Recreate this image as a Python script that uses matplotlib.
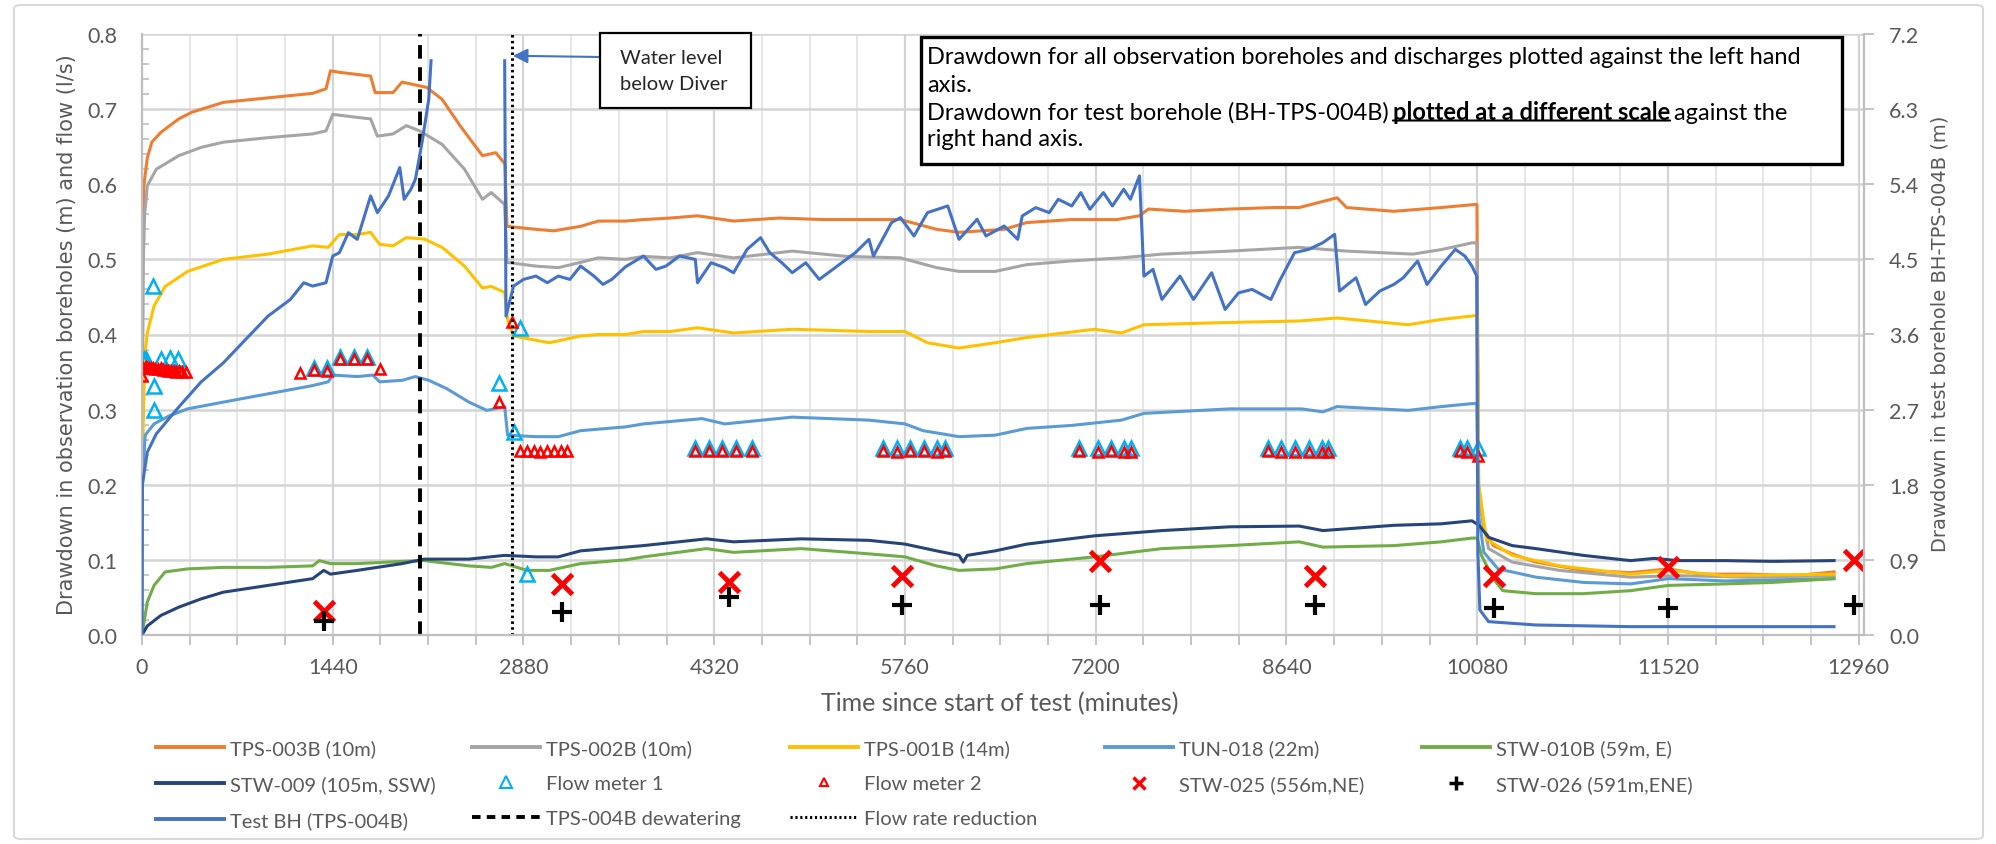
import matplotlib
matplotlib.use('Agg')
import matplotlib.pyplot as plt
from matplotlib.lines import Line2D
from matplotlib.patches import Rectangle, FancyBboxPatch
from matplotlib.text import Annotation
import numpy as np

W, H = 1996, 845
SANS = ['Lato', 'DejaVu Sans']
GREY_TXT = '#595959'
AXIS_GREY = '#BFBFBF'

# ---- data (minutes since start, drawdown in m / flow in l/s) ----
t_tps003b = [0, 5, 15, 40, 74, 142, 277, 378, 614, 951, 1288, 1389, 1423, 1490, 1726, 1760, 1895, 1963,
             2148, 2266, 2401, 2570, 2671, 2740, 2755, 2974, 3109, 3311, 3445, 3649, 3786, 3986, 4194, 4466,
             4807, 5147, 5488, 5726, 5998, 6168, 6509, 6679, 7019, 7360, 7530, 7598, 7870, 8211, 8551, 8736,
             9022, 9094, 9451, 9808, 10058, 10078, 10090, 10130, 10201, 10344, 10523, 10880, 11238, 11523,
             11773, 12131, 12488, 12774]
d_tps003b = [0.2, 0.52, 0.6, 0.635, 0.656, 0.669, 0.687, 0.696, 0.709, 0.715, 0.721, 0.727, 0.751, 0.749,
             0.744, 0.722, 0.722, 0.736, 0.729, 0.713, 0.678, 0.638, 0.642, 0.627, 0.544, 0.540, 0.538, 0.544,
             0.551, 0.551, 0.553, 0.555, 0.558, 0.551, 0.555, 0.553, 0.553, 0.553, 0.540, 0.536, 0.540, 0.549,
             0.553, 0.553, 0.558, 0.567, 0.564, 0.567, 0.569, 0.569, 0.582, 0.569, 0.564, 0.569, 0.573, 0.573,
             0.2, 0.141, 0.119, 0.108, 0.097, 0.086, 0.083, 0.088, 0.081, 0.081, 0.079, 0.084]

t_tps002b = [0, 10, 20, 40, 108, 277, 445, 614, 951, 1288, 1389, 1440, 1625, 1726, 1777, 1895, 1996, 2097,
             2266, 2435, 2570, 2637, 2738, 2755, 2974, 3143, 3311, 3445, 3649, 3786, 3986, 4194, 4466, 4909,
             5317, 5726, 5998, 6168, 6441, 6679, 7019, 7394, 7700, 8211, 8736, 9094, 9594, 9808, 10040, 10078,
             10090, 10166, 10344, 10702, 11238, 11595, 12131, 12774]
d_tps002b = [0.2, 0.5, 0.56, 0.598, 0.62, 0.638, 0.649, 0.656, 0.662, 0.667, 0.671, 0.693, 0.689, 0.687,
             0.664, 0.667, 0.678, 0.671, 0.653, 0.62, 0.58, 0.589, 0.573, 0.496, 0.491, 0.489, 0.496, 0.502,
             0.5, 0.504, 0.502, 0.509, 0.502, 0.511, 0.504, 0.502, 0.489, 0.484, 0.484, 0.493, 0.498, 0.502,
             0.507, 0.511, 0.516, 0.511, 0.507, 0.513, 0.522, 0.522, 0.18, 0.115, 0.097, 0.086, 0.077, 0.079,
             0.077, 0.079]

t_tps001b = [0, 20, 40, 91, 175, 344, 614, 951, 1288, 1406, 1490, 1625, 1726, 1794, 1895, 1996, 2131, 2266,
             2435, 2570, 2637, 2738, 2760, 2805, 3075, 3311, 3445, 3649, 3786, 3986, 4194, 4466, 4909, 5488,
             5760, 5930, 6168, 6441, 6679, 7190, 7394, 7564, 8211, 8736, 9022, 9558, 9808, 10058, 10080,
             10092, 10148, 10344, 10702, 11238, 11523, 11952, 12774]
d_tps001b = [0.2, 0.37, 0.402, 0.438, 0.464, 0.484, 0.5, 0.507, 0.518, 0.516, 0.533, 0.533, 0.536, 0.52,
             0.518, 0.529, 0.527, 0.516, 0.491, 0.462, 0.464, 0.456, 0.42, 0.398, 0.389, 0.398, 0.40, 0.40,
             0.404, 0.404, 0.409, 0.402, 0.407, 0.404, 0.404, 0.389, 0.382, 0.389, 0.396, 0.407, 0.402, 0.413,
             0.416, 0.418, 0.422, 0.413, 0.42, 0.425, 0.425, 0.2, 0.128, 0.106, 0.092, 0.081, 0.086, 0.079,
             0.081]

t_tun018 = [0, 3, 24, 91, 209, 344, 614, 951, 1288, 1406, 1440, 1625, 1743, 1794, 1963, 2064, 2165, 2300,
            2468, 2603, 2738, 2760, 2974, 3143, 3311, 3649, 3786, 4228, 4398, 4909, 5488, 5760, 5896, 6168,
            6441, 6679, 7019, 7394, 7564, 8211, 8755, 8915, 9022, 9558, 9808, 10040, 10078, 10090, 10130,
            10237, 10523, 10880, 11238, 11523, 11952, 12774]
d_tun018 = [0.0, 0.2, 0.266, 0.281, 0.292, 0.301, 0.31, 0.321, 0.332, 0.337, 0.346, 0.344, 0.346, 0.337,
            0.339, 0.344, 0.339, 0.328, 0.31, 0.299, 0.304, 0.266, 0.264, 0.264, 0.272, 0.277, 0.281, 0.288,
            0.281, 0.29, 0.286, 0.281, 0.272, 0.264, 0.266, 0.275, 0.279, 0.286, 0.295, 0.301, 0.301, 0.297,
            0.304, 0.299, 0.304, 0.308, 0.308, 0.16, 0.11, 0.088, 0.077, 0.07, 0.068, 0.075, 0.072, 0.075]

t_stw010b = [0, 40, 91, 175, 344, 614, 951, 1288, 1339, 1423, 1625, 1963, 2131, 2468, 2637, 2738, 2907,
             3075, 3311, 3649, 3786, 4262, 4466, 4977, 5488, 5760, 5998, 6168, 6441, 6679, 7190, 7700, 8211,
             8736, 8915, 9451, 9808, 10040, 10080, 10112, 10201, 10273, 10523, 10880, 11238, 11523, 11952,
             12310, 12774]
d_stw010b = [0.0, 0.044, 0.066, 0.084, 0.088, 0.09, 0.09, 0.092, 0.099, 0.095, 0.095, 0.098, 0.099, 0.092,
             0.09, 0.095, 0.086, 0.086, 0.095, 0.10, 0.104, 0.115, 0.11, 0.115, 0.108, 0.104, 0.092, 0.086,
             0.088, 0.095, 0.104, 0.115, 0.119, 0.124, 0.117, 0.119, 0.124, 0.129, 0.129, 0.106, 0.075, 0.059,
             0.055, 0.055, 0.059, 0.066, 0.068, 0.07, 0.075]

t_stw009 = [0, 40, 142, 277, 445, 614, 951, 1288, 1372, 1423, 1625, 1963, 2131, 2468, 2738, 2974, 3143,
            3311, 3649, 3786, 4262, 4466, 4977, 5488, 5760, 5998, 6168, 6200, 6230, 6441, 6679, 7190, 7700,
            8211, 8736, 8915, 9451, 9808, 10040, 10094, 10166, 10344, 10523, 10880, 11238, 11416, 11595,
            11952, 12310, 12774]
d_stw009 = [0.0, 0.012, 0.026, 0.037, 0.048, 0.057, 0.066, 0.075, 0.086, 0.081, 0.086, 0.095, 0.101, 0.101,
            0.106, 0.104, 0.104, 0.112, 0.117, 0.119, 0.128, 0.124, 0.128, 0.126, 0.121, 0.112, 0.106, 0.097,
            0.106, 0.112, 0.121, 0.132, 0.139, 0.144, 0.145, 0.139, 0.146, 0.148, 0.152, 0.146, 0.13, 0.119,
            0.115, 0.106, 0.099, 0.102, 0.099, 0.099, 0.098, 0.099]

# test borehole, right hand axis (m); nan = logger out of water
t_test_bh = [0, 3, 40, 108, 277, 445, 614, 782, 951, 1120, 1221, 1288, 1389, 1440, 1490, 1558, 1625, 1726,
             1777, 1861, 1946, 1979, 2030, 2064, 2114, 2165, 2182, 2400, 2738, 2748, 2805, 2880, 2974, 3060,
             3143, 3230, 3311, 3412, 3480, 3547, 3649, 3786, 3880, 3956, 4058, 4177, 4194, 4296, 4400, 4466,
             4568, 4670, 4739, 4830, 4909, 5011, 5113, 5249, 5385, 5488, 5522, 5658, 5726, 5828, 5930, 6083,
             6168, 6304, 6372, 6509, 6611, 6645, 6747, 6849, 6917, 7019, 7087, 7156, 7258, 7326, 7411, 7462,
             7530, 7564, 7632, 7700, 7836, 7938, 8075, 8177, 8279, 8381, 8522, 8594, 8701, 8808, 8915, 9004,
             9040, 9165, 9237, 9344, 9451, 9522, 9630, 9701, 9808, 9915, 9987, 10040, 10076, 10085, 10100,
             10166, 10523, 11238, 12774]
d_test_bh = [0.0, 1.8, 2.19, 2.41, 2.73, 3.03, 3.26, 3.54, 3.82, 4.02, 4.22, 4.18, 4.22, 4.54, 4.58, 4.82,
             4.74, 5.26, 5.06, 5.26, 5.6, 5.22, 5.34, 5.46, 5.9, 6.42, 6.88, np.nan, 6.88, 3.82, 4.18, 4.26,
             4.3, 4.22, 4.3, 4.26, 4.42, 4.3, 4.2, 4.26, 4.41, 4.54, 4.38, 4.42, 4.54, 4.5, 4.22, 4.46, 4.4,
             4.34, 4.62, 4.76, 4.58, 4.46, 4.34, 4.46, 4.26, 4.42, 4.58, 4.74, 4.54, 4.94, 5.0, 4.78, 5.06,
             5.14, 4.74, 4.98, 4.78, 4.9, 4.74, 5.02, 5.12, 5.06, 5.22, 5.14, 5.3, 5.1, 5.3, 5.14, 5.34, 5.22,
             5.5, 4.3, 4.38, 4.02, 4.3, 4.02, 4.34, 3.9, 4.1, 4.14, 4.02, 4.26, 4.58, 4.62, 4.7, 4.8, 4.12,
             4.28, 3.96, 4.12, 4.2, 4.28, 4.48, 4.2, 4.42, 4.62, 4.54, 4.42, 4.3, 1.0, 0.3, 0.16, 0.12, 0.1,
             0.1]

t_flow1 = [5, 15, 30, 84, 91, 91, 142, 209, 270, 1295, 1396, 1497, 1598, 1700, 2694, 2806, 2856, 2907,
           4177, 4279, 4381, 4483, 4602, 5597, 5699, 5801, 5903, 6005, 6059, 7070, 7217, 7319, 7411, 7469,
           8504, 8601, 8701, 8808, 8908, 8951, 9951, 10005, 10087]
q_flow1 = [0.365, 0.368, 0.367, 0.464, 0.331, 0.299, 0.368, 0.369, 0.367, 0.356, 0.356, 0.37, 0.37, 0.37,
           0.336, 0.27, 0.409, 0.081, 0.249, 0.249, 0.249, 0.249, 0.249, 0.249, 0.249, 0.249, 0.249, 0.249,
           0.249, 0.249, 0.249, 0.249, 0.249, 0.249, 0.249, 0.249, 0.249, 0.249, 0.249, 0.249, 0.249, 0.249,
           0.249]

t_flow2 = [0, 10, 20, 30, 40, 55, 70, 85, 100, 120, 140, 160, 180, 200, 220, 240, 260, 280, 300, 330, 1194,
           1295, 1396, 1497, 1598, 1700, 1794, 2694, 2790, 2856, 2907, 2957, 3008, 3059, 3109, 3160, 3210,
           4177, 4279, 4381, 4483, 4602, 5597, 5699, 5801, 5903, 6005, 6059, 7070, 7217, 7319, 7411, 7469,
           8504, 8601, 8701, 8808, 8908, 8951, 9951, 10005, 10087]
q_flow2 = [0.345, 0.355, 0.356, 0.357, 0.356, 0.355, 0.355, 0.356, 0.354, 0.354, 0.355, 0.353, 0.353,
           0.352, 0.352, 0.351, 0.350, 0.351, 0.350, 0.350, 0.349, 0.353, 0.351, 0.367, 0.367, 0.367, 0.354,
           0.31, 0.416, 0.245, 0.245, 0.245, 0.244, 0.245, 0.245, 0.245, 0.245, 0.245, 0.245, 0.245, 0.245,
           0.245, 0.245, 0.244, 0.245, 0.245, 0.244, 0.245, 0.245, 0.244, 0.245, 0.244, 0.244, 0.245, 0.244,
           0.243, 0.244, 0.243, 0.244, 0.245, 0.243, 0.238]

t_manual = [1372, 3170, 4432, 5736, 7234, 8854, 10209, 11523, 12924]
d_stw025 = [0.032, 0.068, 0.07, 0.079, 0.099, 0.079, 0.079, 0.09, 0.1]
d_stw026 = [0.019, 0.030, 0.05, 0.04, 0.04, 0.04, 0.036, 0.036, 0.04]

t_dewatering = 2100
t_flow_reduction = 2790

x_ticks = list(range(0, 12961, 1440))
y_left_ticks = [0.0, 0.1, 0.2, 0.3, 0.4, 0.5, 0.6, 0.7, 0.8]
y_right_ticks = [0.0, 0.9, 1.8, 2.7, 3.6, 4.5, 5.4, 6.3, 7.2]


def fx(x):
    return x / W


def fy(y):
    return 1 - y / H


fig = plt.figure(figsize=(W / 100, H / 100), dpi=100)
ax = fig.add_axes([fx(142), fy(636), fx(1864) - fx(142), fy(35) - fy(636)])
ax2 = ax.twinx()

lw = 2.2
ax.plot(t_tps003b, d_tps003b, color='#ED7D31', lw=lw)
ax.plot(t_tps002b, d_tps002b, color='#A5A5A5', lw=lw)
ax.plot(t_tps001b, d_tps001b, color='#FFC000', lw=lw)
ax.plot(t_tun018, d_tun018, color='#5B9BD5', lw=lw)
ax.plot(t_stw010b, d_stw010b, color='#70AD47', lw=lw)
ax.plot(t_stw009, d_stw009, color='#264478', lw=lw)
ax.plot(t_flow1, q_flow1, ls='none', marker='^', ms=10, mfc='none', mec='#00B0F0', mew=1.8)
ax.plot(t_flow2, q_flow2, ls='none', marker='^', ms=7, mfc='none', mec='#FF0000', mew=1.8)
ax.plot(t_manual, d_stw025, ls='none', marker='x', ms=14, mec='#FF0000', mew=3.5)
ax.plot(t_manual, d_stw026, ls='none', marker='+', ms=15, mec='black', mew=3)
ax.axvline(t_dewatering, color='black', lw=2.8, dashes=(3.5, 2.2))
ax.axvline(t_flow_reduction, color='black', lw=2.2, dashes=(0.8, 1.1))

ax2.plot(t_test_bh, d_test_bh, color='#4472C4', lw=lw)

# axes styling
ax.set_xlim(0, 13000)
ax.set_ylim(0, 0.8)
ax2.set_ylim(0, 7.2)
ax.set_xticks(x_ticks)
ax.set_xticks(range(0, 13000, 360), minor=True)
ax.set_yticks(y_left_ticks)
ax.set_yticklabels(['%.1f' % v for v in y_left_ticks])
ax.set_yticks(np.arange(0, 0.8, 0.02), minor=True)
ax2.set_yticks(y_right_ticks)
ax2.set_yticklabels(['%.1f' % v for v in y_right_ticks])

ax.set_axisbelow(True)
ax.grid(axis='x', which='minor', color='#E4E4E4', lw=1.3)
ax.grid(axis='x', which='major', color='#D4D4D4', lw=1.6)
ax.grid(axis='y', which='major', color='#D4D4D4', lw=1.8)

for a in (ax, ax2):
    a.spines['top'].set_visible(False)
ax.spines['right'].set_visible(False)
ax2.spines['left'].set_visible(False)
ax2.spines['bottom'].set_visible(False)
for s in ('left', 'bottom'):
    ax.spines[s].set_color(AXIS_GREY)
    ax.spines[s].set_linewidth(1.6)
ax2.spines['right'].set_color(AXIS_GREY)
ax2.spines['right'].set_linewidth(1.6)

ax.tick_params(axis='x', which='both', direction='out', length=7, width=1.3, color=AXIS_GREY,
               pad=9, labelsize=15.5, labelcolor=GREY_TXT)
ax.tick_params(axis='y', which='major', length=0, pad=18, labelsize=15.5, labelcolor=GREY_TXT)
ax.tick_params(axis='y', which='minor', direction='in', length=5, width=1.2, color=AXIS_GREY)
ax2.tick_params(axis='y', which='major', direction='out', length=7, width=1.3, color=AXIS_GREY,
                pad=11, labelsize=15.5, labelcolor=GREY_TXT)
for lab in ax.get_xticklabels() + ax.get_yticklabels() + ax2.get_yticklabels():
    lab.set_family(SANS)

# axis titles
fig.text(fx(67), fy(335), 'Drawdown in observation boreholes (m) and flow (l/s)', rotation=90,
         ha='center', va='center', fontsize=15, color=GREY_TXT, family='DejaVu Sans')
fig.text(fx(1940), fy(334), 'Drawdown in test borehole BH-TPS-004B (m)', rotation=90,
         ha='center', va='center', fontsize=14, color=GREY_TXT, family='DejaVu Sans')
fig.text(fx(1000), fy(704), 'Time since start of test (minutes)', ha='center', va='center',
         fontsize=18, color=GREY_TXT, family=SANS)

# "water level below diver" call-out
fig.add_artist(Rectangle((fx(600), fy(109)), fx(751) - fx(600), fy(34) - fy(109),
                         transform=fig.transFigure, fc='white', ec='black', lw=1.6))
fig.text(fx(620), fy(58), 'Water level', va='center', fontsize=14.5, family=SANS, color='#262626')
fig.text(fx(620), fy(84), 'below Diver', va='center', fontsize=14.5, family=SANS, color='#262626')
ax.annotate('', xy=(2800, 0.771), xycoords='data', xytext=(fx(600), fy(58)),
            textcoords='figure fraction',
            arrowprops=dict(arrowstyle='-|>', color='#4472C4', lw=1.5, mutation_scale=22,
                            shrinkA=0, shrinkB=0))

# note box
fig.add_artist(Rectangle((fx(921), fy(165)), fx(1842) - fx(921), fy(38) - fy(165),
                         transform=fig.transFigure, fc='white', ec='black', lw=2.4))
note_kw = dict(fontsize=17, family=SANS, color='black', va='center')
fig.text(fx(927), fy(58), 'Drawdown for all observation boreholes and discharges plotted against the left hand',
         **note_kw)
fig.text(fx(927), fy(85), 'axis.', **note_kw)
part1 = fig.text(fx(927), fy(113), 'Drawdown for test borehole (BH-TPS-004B)', **note_kw)
part2 = fig.add_artist(Annotation('plotted at a different scale', xy=(1, 0.5), xycoords=part1,
                                  xytext=(3, 0), textcoords='offset points', ha='left',
                                  fontweight='bold', **note_kw))
fig.add_artist(Annotation('against the', xy=(1, 0.5), xycoords=part2, xytext=(3, 0),
                          textcoords='offset points', ha='left', **note_kw))
fig.add_artist(Annotation('', xy=(0, 0.13), xycoords=part2, xytext=(1, 0.13), textcoords=part2,
                          arrowprops=dict(arrowstyle='-', lw=1.5, color='black', shrinkA=0, shrinkB=0)))
fig.text(fx(927), fy(140), 'right hand axis.', **note_kw)

# legend, laid out in five columns like the original
def line_h(c, **kw):
    return Line2D([], [], color=c, lw=2.8, **kw)


def mark_h(m, c, ms, mew):
    return Line2D([], [], ls='none', marker=m, ms=ms, mfc='none', mec=c, mew=mew)


columns = [
    [(line_h('#ED7D31'), 'TPS-003B (10m)'), (line_h('#264478'), 'STW-009 (105m, SSW)'),
     (line_h('#4472C4'), 'Test BH (TPS-004B)')],
    [(line_h('#A5A5A5'), 'TPS-002B (10m)'), (mark_h('^', '#00B0F0', 8, 1.5), 'Flow meter 1'),
     (line_h('black', dashes=(2.2, 1.6)), 'TPS-004B dewatering')],
    [(line_h('#FFC000'), 'TPS-001B (14m)'), (mark_h('^', '#FF0000', 6, 1.5), 'Flow meter 2'),
     (Line2D([], [], color='black', lw=2.2, dashes=(0.7, 0.9)), 'Flow rate reduction')],
    [(line_h('#5B9BD5'), 'TUN-018 (22m)'), (mark_h('x', '#FF0000', 9, 2.5), 'STW-025 (556m,NE)')],
    [(line_h('#70AD47'), 'STW-010B (59m, E)'), (mark_h('+', 'black', 10, 2.5), 'STW-026 (591m,ENE)')],
]
col_x = [156, 472, 790, 1105, 1422]
for x0, col in zip(col_x, columns):
    fig.legend([h for h, _ in col], [l for _, l in col], loc='upper left',
               bbox_to_anchor=(fx(x0), fy(740)), bbox_transform=fig.transFigure, frameon=False,
               borderpad=0, borderaxespad=0, handlelength=3.4, handletextpad=0.25, labelspacing=0.9,
               prop=dict(family=SANS, size=14.5), labelcolor=GREY_TXT)

# outer chart frame
fig.add_artist(FancyBboxPatch((fx(14), fy(840)), fx(1983) - fx(14), fy(6) - fy(840),
                              boxstyle='round,pad=0,rounding_size=0.004', transform=fig.transFigure,
                              fill=False, ec='#D9D9D9', lw=1.5))

fig.savefig('out.png', dpi=100)
